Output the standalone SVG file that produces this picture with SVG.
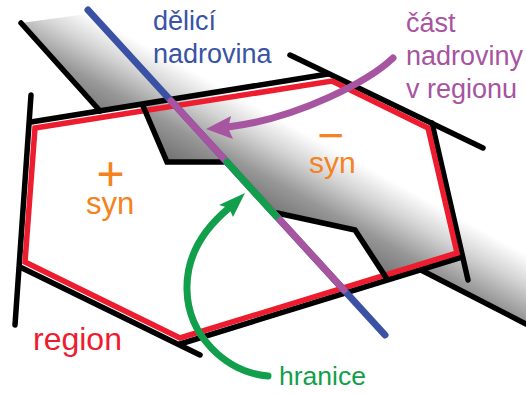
<svg xmlns="http://www.w3.org/2000/svg" width="526" height="394" viewBox="0 0 526 394">
<defs>
<linearGradient id="shade" gradientUnits="userSpaceOnUse" x1="200" y1="185" x2="246.5" y2="100.5">
<stop offset="0" stop-color="#6a6a6a"/>
<stop offset="0.4" stop-color="#979797"/>
<stop offset="0.72" stop-color="#d4d4d4"/>
<stop offset="1" stop-color="#ffffff"/>
</linearGradient>
<style>
.blk{stroke:#000;stroke-width:5.5;fill:none;stroke-linecap:round;stroke-linejoin:miter}
.reg{stroke:#ed1c2e;stroke-width:5.5;fill:none;stroke-linejoin:miter}
.t{font-family:"Liberation Sans",Arial,sans-serif}
.hp{fill:none;stroke-width:7;stroke-linecap:round}
.sign{fill:#f58220}
</style>
</defs>
<rect width="526" height="394" fill="#fff"/>
<g id="band">
<path d="M21,23 L160,4 L526,4 L526,324 L421,270 L387,279 L355,230 L277,213 L227,162 L167,162 L143,106 L100,111 Z" fill="url(#shade)"/>
</g>
<g id="cuts">
<path class="blk" d="M31,95 L15,325"/>
<path class="blk" d="M31,122 L328,74"/>
<path class="blk" d="M290,55 L483,148"/>
<path class="blk" d="M432,123 L468,280"/>
<path class="blk" d="M180,344 L462,257"/>
<path class="blk" d="M20,267 L200,355"/>
</g>
<g id="region">
<path class="reg" d="M35,128 L332,81 L428,128 L457,253 L180,338 L25,262 Z"/>
</g>
<g id="band-outline">
<path class="blk" d="M21,23 L100,111"/>
<path class="blk" d="M143,106 L167,162 L227,162" stroke-linecap="butt"/>
<path class="blk" d="M277,213 L355,230 L387,279" stroke-linecap="butt"/>
<path class="blk" d="M421,270 L526,324" stroke-linecap="butt"/>
</g>
<g id="hyperplane">
<path class="hp" stroke="#3b51a3" d="M88,10 L385,335"/>
<path class="hp" stroke="#a754a1" stroke-linecap="butt" d="M171,101 L344,290"/>
<path class="hp" stroke="#129f4b" stroke-linecap="butt" d="M227,162 L276,216"/>
</g>
<g id="connectors">
<path class="hp" stroke="#a754a1" d="M393,58 C370,80 300,118 228,127"/>
<path fill="#a754a1" d="M206,129 L231,116 L228,128 L233,139 Z"/>
<path class="hp" stroke="#129f4b" d="M268,376 C225,372 188,335 187,290 C186,255 205,228 229,208"/>
<path fill="#129f4b" d="M245,193 L219,205 L229,208 L233,217 Z"/>
</g>
<g id="labels" class="t">
<text x="153" y="30" font-size="27" fill="#3953a5">dělicí</text>
<text x="153" y="63" font-size="27" fill="#3953a5">nadrovina</text>
<text x="406" y="32" font-size="27" fill="#a754a1">část</text>
<text x="406" y="65" font-size="27" fill="#a754a1">nadroviny</text>
<text x="406" y="98" font-size="27" fill="#a754a1">v regionu</text>
<text class="sign"><tspan x="331" y="151" font-size="46" text-anchor="middle">−</tspan><tspan x="309" y="173" font-size="30">syn</tspan></text>
<text class="sign"><tspan x="110.5" y="189.5" font-size="48" text-anchor="middle">+</tspan><tspan x="86" y="214" font-size="31">syn</tspan></text>
<text x="33" y="350" font-size="32" fill="#ed1c2e">region</text>
<text x="279" y="385" font-size="26.5" fill="#129f4b">hranice</text>
</g>
</svg>
